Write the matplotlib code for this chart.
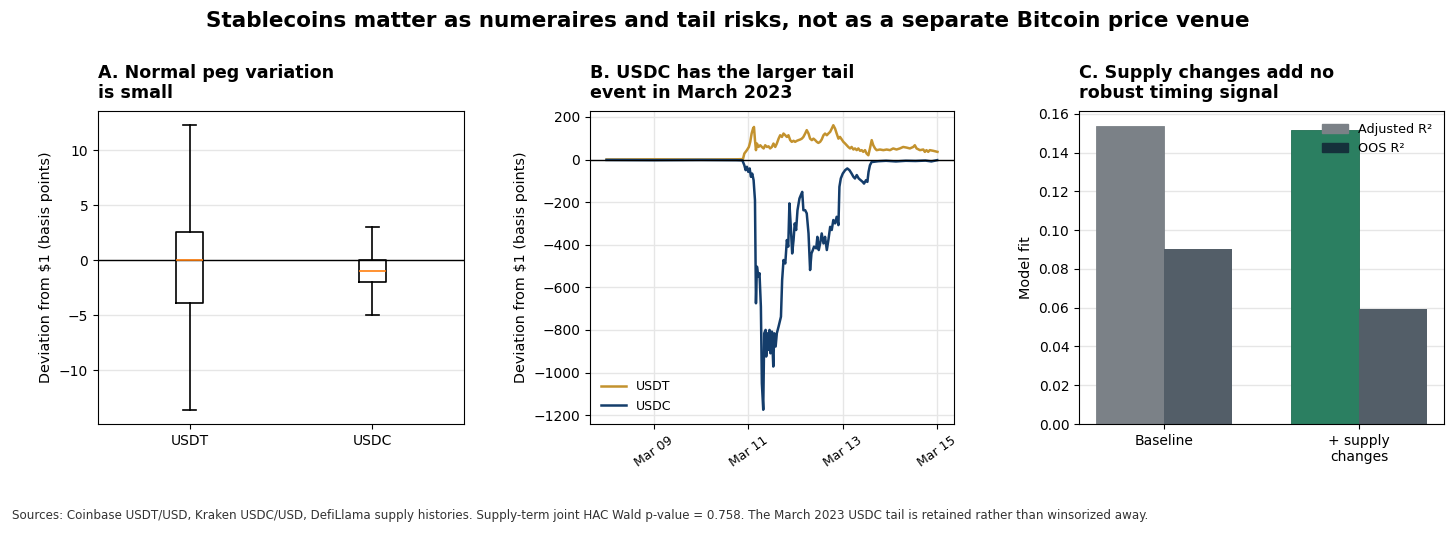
import matplotlib
matplotlib.use("Agg")
import matplotlib.pyplot as plt
import matplotlib.dates as mdates
from matplotlib.patches import Patch
import pandas as pd
import numpy as np

# ---------------- Data ----------------
# Panel A: box statistics (basis points)
box_labels = ["USDT", "USDC"]
box_whislo = [-13.6, -5.0]
box_q1 = [-3.9, -2.0]
box_med = [0.0, -1.0]
box_q3 = [2.6, 0.0]
box_whishi = [12.3, 3.0]

# Panel B: deviations (bps), hours relative to 2023-03-11 00:00
usdc_hours = [-72, -48, -24, -6, -3, -2.0, -1.35, -0.7, 0, 0.7, 1.35, 2.0, 2.7, 3.4, 3.9, 4.4, 5.1, 5.7,
              6.4, 6.9, 7.6, 8.1, 8.8, 9.1, 9.8, 10.3, 10.8, 11.3, 12.0, 12.7, 13.2, 13.9, 14.5, 15.4,
              16.6, 17.2, 17.9, 18.8, 19.6, 20.3, 20.9, 21.6, 22.3, 23.0, 23.6, 24.3, 25.0, 26.0, 26.7,
              27.4, 28.0, 28.9, 29.7, 30.6, 31.4, 32.1, 32.8, 33.4, 34.5, 35.1, 35.8, 36.5, 37.3, 38.2,
              39.0, 39.9, 40.7, 41.6, 42.4, 43.2, 44.1, 44.9, 45.8, 46.3, 47.0, 48.0, 49.2, 50.3, 51.4,
              52.5, 53.4, 54.2, 55.1, 56.1, 57.1, 58.1, 58.8, 59.8, 60.5, 61.1, 61.8, 62.7, 63.5, 66,
              70, 75, 80, 85, 90, 93, 96]
usdc_bps = [-2, -3, -2, -3, -4, -27, -50, -34, -58, -42, -81, -66, -97, -191, -675, -503, -550, -534,
            -691, -1050, -1175, -816, -800, -925, -816, -894, -800, -910, -808, -972, -816, -878, -816, -784,
            -738, -566, -472, -488, -378, -409, -206, -316, -441, -378, -300, -331, -238, -183, -167,
            -152, -238, -238, -253, -347, -519, -441, -425, -409, -417, -363, -425, -394, -347, -394,
            -363, -425, -378, -316, -331, -284, -300, -269, -308, -128, -89, -66, -50, -42, -50,
            -66, -81, -89, -73, -89, -97, -105, -113, -97, -105, -58, -27, -11, -11, -8,
            -6, -9, -6, -7, -5, -9, -3]

usdt_hours = [-72, -48, -24, -6, -2.7, -2.0, -0.7, 0.3, 1.0, 1.7, 2.4, 2.9, 3.4, 3.9, 4.4, 5.2, 6.1, 6.9,
              7.8, 8.6, 9.5, 10.3, 11.1, 12.0, 12.8, 13.7, 14.5, 15.4, 16.2, 17.1, 17.9, 18.8, 19.6, 20.4,
              21.3, 22.1, 23.0, 23.8, 24.7, 25.5, 26.4, 27.2, 28.0, 28.9, 29.7, 30.6, 31.4, 32.3, 33.1,
              34.0, 34.8, 35.6, 36.5, 37.3, 38.2, 39.0, 39.9, 40.7, 41.6, 42.4, 43.2, 44.1, 44.9, 45.8,
              46.6, 47.5, 48.3, 49.2, 50.0, 50.8, 51.7, 52.5, 53.4, 54.2, 55.1, 55.9, 56.8, 57.6, 58.4,
              59.3, 60.1, 61.0, 61.8, 62.7, 63.5, 64.4, 65.2, 66.9, 68.6, 70.3, 72.0, 73.6, 75.3, 77.0,
              78.7, 80.4, 82.1, 83.8, 84.6, 85.5, 87.2, 88.9, 89.7, 90.5, 91.4, 92.2, 93.9, 96.1]
usdt_bps = [0, 1, 0, 1, 2, 28, 44, 59, 83, 122, 145, 153, 91, 44, 75, 59, 67, 59,
            52, 67, 59, 62, 52, 59, 75, 59, 75, 98, 114, 106, 122, 114, 106, 114,
            91, 83, 88, 83, 88, 91, 94, 98, 106, 122, 138, 122, 98, 91, 98,
            91, 83, 78, 83, 94, 114, 122, 114, 122, 130, 145, 161, 145, 122, 98,
            106, 94, 83, 75, 67, 59, 52, 59, 47, 52, 44, 52, 41, 44, 36,
            44, 28, 20, 52, 91, 67, 52, 44, 47, 44, 47, 44, 52, 47, 52,
            59, 56, 52, 59, 67, 52, 44, 47, 36, 44, 36, 44, 41, 36]

# Panel C: model fit
models = ["Baseline", "+ supply\nchanges"]
adj_r2 = [0.1538, 0.1517]
oos_r2 = [0.0905, 0.0591]

# ---------------- Styles ----------------
C_USDT = "#c3922e"
C_USDC = "#143d6b"
C_ADJ_BASE = "#7b8187"
C_ADJ_SUPPLY = "#2b7f61"
C_OOS = "#535e68"
C_OOS_LEG = "#15313b"
GRID = "#e6e6e6"

plt.rcParams["font.family"] = ["DejaVu Sans"]

fig = plt.figure(figsize=(14.56, 5.34), dpi=100)
axA = fig.add_axes([98/1456, 1-424/534, 366/1456, 313/534])
axB = fig.add_axes([590/1456, 1-424/534, 364/1456, 313/534])
axC = fig.add_axes([1079/1456, 1-424/534, 365/1456, 313/534])

fig.suptitle("Stablecoins matter as numeraires and tail risks, not as a separate Bitcoin price venue",
             fontsize=15.5, fontweight="bold", y=0.98)

TITLE_FS = 12.6

# ---- Panel A ----
stats = []
for i in range(2):
    stats.append(dict(label=box_labels[i], whislo=box_whislo[i], q1=box_q1[i], med=box_med[i],
                      q3=box_q3[i], whishi=box_whishi[i], fliers=[]))
axA.bxp(stats, showfliers=False,
        boxprops=dict(color="black", linewidth=1.2),
        whiskerprops=dict(color="black", linewidth=1.2),
        capprops=dict(color="black", linewidth=1.2),
        medianprops=dict(color="#ff7f0e", linewidth=1.2))
axA.yaxis.grid(True, color=GRID, linewidth=1)
axA.set_axisbelow(True)
axA.axhline(0, color="black", linewidth=1, zorder=1.5)
axA.set_ylabel("Deviation from $1 (basis points)", fontsize=10.4)
axA.tick_params(labelsize=10)
axA.set_title("A. Normal peg variation\nis small", loc="left", fontsize=TITLE_FS, fontweight="bold", pad=9)

# ---- Panel B ----
base = pd.Timestamp("2023-03-11")
t_usdt = base + pd.to_timedelta(usdt_hours, unit="h")
t_usdc = base + pd.to_timedelta(usdc_hours, unit="h")
axB.plot(t_usdt, usdt_bps, color=C_USDT, linewidth=1.8, label="USDT")
axB.plot(t_usdc, usdc_bps, color=C_USDC, linewidth=1.8, label="USDC")
axB.axhline(0, color="black", linewidth=1)
axB.grid(True, color=GRID, linewidth=1)
axB.set_axisbelow(True)
axB.xaxis.set_major_locator(mdates.DayLocator(bymonthday=[9, 11, 13, 15]))
axB.xaxis.set_major_formatter(mdates.DateFormatter("%b %d"))
for lab in axB.get_xticklabels():
    lab.set_rotation(35)
    lab.set_fontsize(9)
    lab.set_ha("center")
axB.tick_params(axis="y", labelsize=10)
axB.set_ylabel("Deviation from $1 (basis points)", fontsize=10.4)
axB.legend(loc="lower left", frameon=False, fontsize=9)
axB.set_title("B. USDC has the larger tail\nevent in March 2023", loc="left", fontsize=TITLE_FS,
              fontweight="bold", pad=9)

# ---- Panel C ----
x = np.arange(len(models))
w = 0.35
axC.bar(x - w/2, adj_r2, width=w, color=[C_ADJ_BASE, C_ADJ_SUPPLY],
        edgecolor=[C_ADJ_BASE, "#1f6e52"], linewidth=0.6, zorder=2)
axC.bar(x + w/2, oos_r2, width=w, color=C_OOS, zorder=2)
axC.set_xticks(x)
axC.set_xticklabels(models)
axC.yaxis.grid(True, color=GRID, linewidth=1, zorder=0)
axC.set_axisbelow(True)
axC.set_ylabel("Model fit", fontsize=10.4)
axC.tick_params(labelsize=10)
axC.legend(handles=[Patch(color=C_ADJ_BASE, label="Adjusted R²"), Patch(color=C_OOS_LEG, label="OOS R²")],
           loc="upper right", frameon=False, fontsize=9.2)
axC.set_title("C. Supply changes add no\nrobust timing signal", loc="left", fontsize=TITLE_FS,
              fontweight="bold", pad=9)

fig.text(12/1456, 1-516/534,
         "Sources: Coinbase USDT/USD, Kraken USDC/USD, DefiLlama supply histories. Supply-term joint HAC Wald "
         "p-value = 0.758. The March 2023 USDC tail is retained rather than winsorized away.",
         fontsize=8.6, color="#333333", va="center", ha="left")

fig.savefig("out.png", dpi=100)
